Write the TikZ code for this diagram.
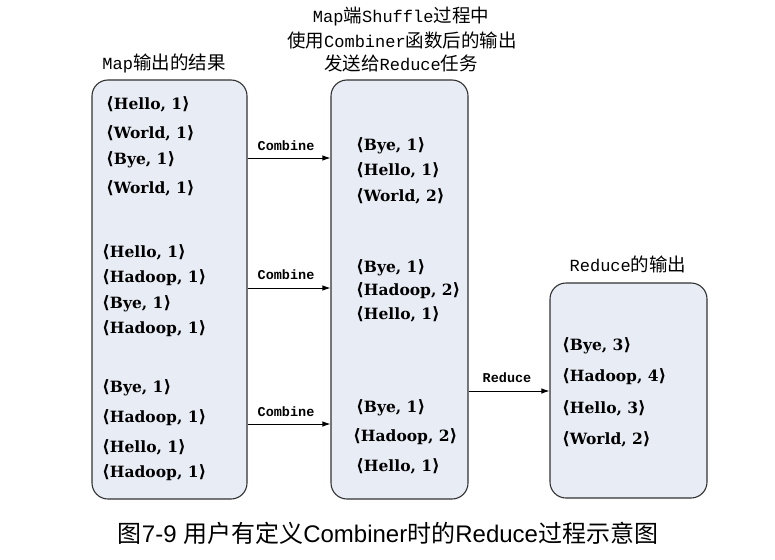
\documentclass[tikz,border=0pt]{standalone}
\usepackage{fontspec}
\setmainfont{Liberation Mono}
\newfontfamily\cjk{Noto Sans CJK SC}
\newfontfamily\pairfont{DejaVu Serif}
\newfontfamily\brk{DejaVu Sans}
\newfontfamily\capfont{Liberation Sans}
\usetikzlibrary{arrows.meta}
\newcommand{\pr}[1]{{\brk\fontsize{17}{18}\selectfont ⟨}#1{\brk\fontsize{17}{18}\selectfont ⟩}}
\definecolor{boxfill}{RGB}{232,236,244}
\definecolor{boxline}{RGB}{50,50,50}
\tikzset{
  panel/.style={draw=boxline, line width=1.1pt, fill=boxfill, rounded corners=16pt, inner sep=0pt},
  pair/.style={anchor=west, inner sep=0pt, font=\pairfont\bfseries\fontsize{15.5}{17}\selectfont},
  ttl/.style={inner sep=0pt, font=\fontsize{17}{20}\selectfont},
  lbl/.style={inner sep=0pt, font=\bfseries\fontsize{13.5}{15}\selectfont},
  arr/.style={draw=black, line width=0.9pt, -{Latex[length=8pt,width=5.5pt]}},
}
\newcommand{\cj}[1]{{\cjk\fontsize{18.5}{20}\selectfont #1}}
\begin{document}
\begin{tikzpicture}[x=1pt,y=-1pt]
\useasboundingbox (0,0) rectangle (775,559);
% boxes
\node[panel, minimum width=155pt, minimum height=419pt] (b1) at (169.5,289.5) {};
\node[panel, minimum width=137pt, minimum height=419pt] (b2) at (399.5,289.5) {};
\node[panel, minimum width=157pt, minimum height=215pt] (b3) at (628.5,390.5) {};
% titles
\node[ttl] (t1) at (164,63) {Map\cj{输出的结果}};
\node[ttl] (t2a) at (401,16) {Map\cj{端}Shuffle\cj{过程中}};
\node[ttl] (t2b) at (402,40) {\cj{使用}Combiner\cj{函数后的输出}};
\node[ttl] (t2c) at (401,63) {\cj{发送给}Reduce\cj{任务}};
\node[ttl] (t3) at (628,264) {Reduce\cj{的输出}};
% box 1 contents
\node[pair] (p11) at (106,104) {\pr{Hello, 1}};
\node[pair] (p12) at (106,133) {\pr{World, 1}};
\node[pair] (p13) at (106,160) {\pr{Bye, 1}};
\node[pair] (p14) at (106,188) {\pr{World, 1}};
\node[pair] (p21) at (102,252) {\pr{Hello, 1}};
\node[pair] (p22) at (102,278) {\pr{Hadoop, 1}};
\node[pair] (p23) at (102,304) {\pr{Bye, 1}};
\node[pair] (p24) at (102,329) {\pr{Hadoop, 1}};
\node[pair] (p31) at (102,388) {\pr{Bye, 1}};
\node[pair] (p32) at (102,418) {\pr{Hadoop, 1}};
\node[pair] (p33) at (102,447) {\pr{Hello, 1}};
\node[pair] (p34) at (102,473) {\pr{Hadoop, 1}};
% box 2 contents
\node[pair] (q11) at (356,146) {\pr{Bye, 1}};
\node[pair] (q12) at (356,170) {\pr{Hello, 1}};
\node[pair] (q13) at (356,196) {\pr{World, 2}};
\node[pair] (q21) at (356,268) {\pr{Bye, 1}};
\node[pair] (q22) at (356,291) {\pr{Hadoop, 2}};
\node[pair] (q23) at (356,314) {\pr{Hello, 1}};
\node[pair] (q31) at (356,408) {\pr{Bye, 1}};
\node[pair] (q32) at (353,437) {\pr{Hadoop, 2}};
\node[pair] (q33) at (356,466) {\pr{Hello, 1}};
% box 3 contents
\node[pair] (r1) at (562,346) {\pr{Bye, 3}};
\node[pair] (r2) at (562,377) {\pr{Hadoop, 4}};
\node[pair] (r3) at (562,408) {\pr{Hello, 3}};
\node[pair] (r4) at (562,439) {\pr{World, 2}};
% arrows
\coordinate (y1) at (0,158);
\coordinate (y2) at (0,288);
\coordinate (y3) at (0,424);
\coordinate (y4) at (0,391);
\draw[arr] (b1.east |- y1) -- (b2.west |- y1);
\draw[arr] (b1.east |- y2) -- (b2.west |- y2);
\draw[arr] (b1.east |- y3) -- (b2.west |- y3);
\draw[arr] (b2.east |- y4) -- (b3.west |- y4);
\node[lbl] (l1) at (286,146) {Combine};
\node[lbl] (l2) at (286,275) {Combine};
\node[lbl] (l3) at (286,412) {Combine};
\node[lbl] (l4) at (507,378) {Reduce};
% caption
\node[inner sep=0pt] (cap) at (388,533) {\cjk\fontsize{24}{26}\selectfont 图{\capfont 7-9 }用户有定义{\capfont Combiner}时的{\capfont Reduce}过程示意图};
\end{tikzpicture}
\end{document}
